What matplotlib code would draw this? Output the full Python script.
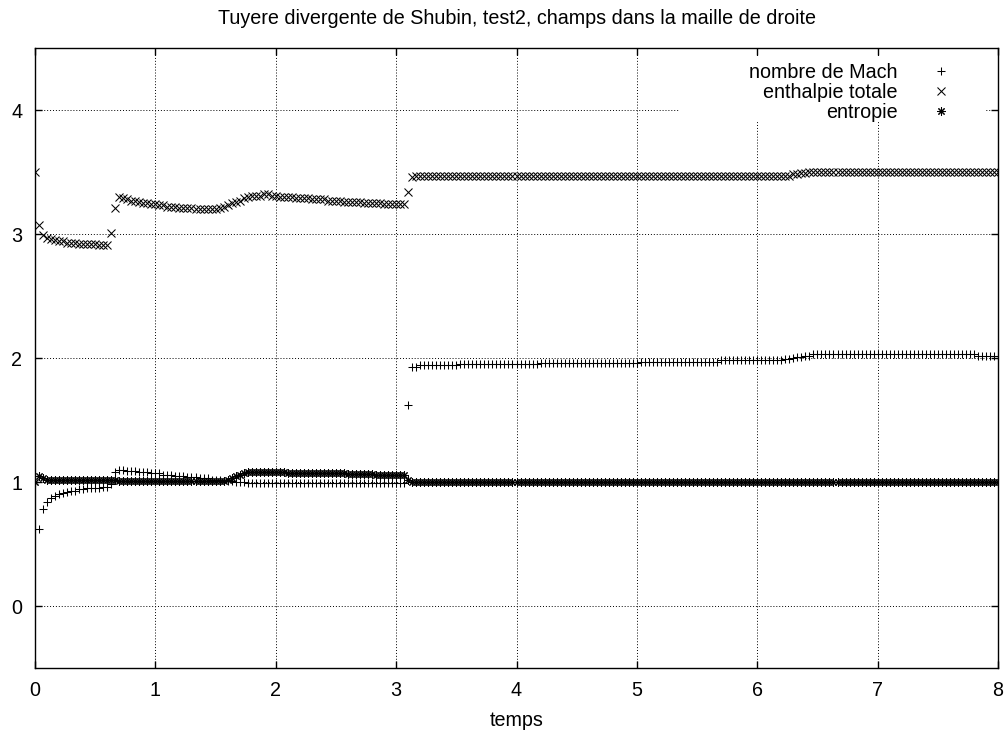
import matplotlib

matplotlib.use("Agg")
import matplotlib.pyplot as plt
import numpy as np
from matplotlib.patches import Rectangle

plt.rcParams["font.family"] = ["Liberation Sans", "DejaVu Sans"]

TITLE = "Tuyere divergente de Shubin, test2, champs dans la maille de droite"
XLABEL = "temps"
LABELS = ["nombre de Mach", "enthalpie totale", "entropie"]
X_TICKS = [0, 1, 2, 3, 4, 5, 6, 7, 8]
Y_TICKS = [0, 1, 2, 3, 4]

# one sample every 1/30 s
mach = [
    1.00, 0.62, 0.78, 0.84, 0.87, 0.89, 0.90, 0.91, 0.92, 0.93,
    0.93, 0.94, 0.94, 0.95, 0.95, 0.95, 0.95, 0.96, 0.96, 0.98,
    1.08, 1.10, 1.10, 1.09, 1.09, 1.09, 1.08, 1.08, 1.08, 1.07,
    1.07, 1.07, 1.06, 1.06, 1.06, 1.05, 1.05, 1.05, 1.04, 1.04,
    1.04, 1.03, 1.03, 1.03, 1.02, 1.02, 1.02, 1.01, 1.01, 1.01,
    1.00, 1.00, 1.00, 0.99, 0.99, 0.99, 0.99, 0.99, 0.99, 0.99,
    0.99, 0.99, 0.99, 0.99, 0.99, 0.99, 0.99, 0.99, 0.99, 0.99,
    0.99, 0.99, 0.99, 0.99, 0.99, 0.99, 0.99, 0.99, 0.99, 0.99,
    0.99, 0.99, 0.99, 0.99, 0.99, 0.99, 0.99, 0.99, 0.99, 0.99,
    0.99, 0.99, 0.99, 1.62, 1.93, 1.93, 1.94, 1.94, 1.94, 1.94,
    1.94, 1.94, 1.94, 1.94, 1.94, 1.94, 1.95, 1.95, 1.95, 1.95,
    1.95, 1.95, 1.95, 1.95, 1.95, 1.95, 1.95, 1.95, 1.95, 1.95,
    1.95, 1.95, 1.95, 1.95, 1.95, 1.95, 1.96, 1.96, 1.96, 1.96,
    1.96, 1.96, 1.96, 1.96, 1.96, 1.96, 1.96, 1.96, 1.96, 1.96,
    1.96, 1.96, 1.96, 1.96, 1.96, 1.96, 1.96, 1.96, 1.96, 1.96,
    1.96, 1.97, 1.97, 1.97, 1.97, 1.97, 1.97, 1.97, 1.97, 1.97,
    1.97, 1.97, 1.97, 1.97, 1.97, 1.97, 1.97, 1.97, 1.97, 1.97,
    1.97, 1.98, 1.98, 1.98, 1.98, 1.98, 1.98, 1.98, 1.98, 1.98,
    1.98, 1.98, 1.98, 1.98, 1.98, 1.98, 1.98, 1.99, 1.99, 2.00,
    2.01, 2.01, 2.02, 2.02, 2.03, 2.03, 2.03, 2.03, 2.03, 2.03,
    2.03, 2.03, 2.03, 2.03, 2.03, 2.03, 2.03, 2.03, 2.03, 2.03,
    2.03, 2.03, 2.03, 2.03, 2.03, 2.03, 2.03, 2.03, 2.03, 2.03,
    2.03, 2.03, 2.03, 2.03, 2.03, 2.03, 2.03, 2.03, 2.03, 2.03,
    2.03, 2.03, 2.03, 2.03, 2.03, 2.02, 2.02, 2.02, 2.02, 2.02,
    2.02,
]

enthalpie = [
    3.50, 3.07, 2.99, 2.97, 2.96, 2.95, 2.94, 2.94, 2.93, 2.93,
    2.93, 2.92, 2.92, 2.92, 2.92, 2.92, 2.91, 2.91, 2.91, 3.01,
    3.21, 3.30, 3.29, 3.28, 3.27, 3.27, 3.26, 3.25, 3.25, 3.24,
    3.24, 3.23, 3.23, 3.22, 3.22, 3.22, 3.21, 3.21, 3.21, 3.21,
    3.20, 3.20, 3.20, 3.20, 3.20, 3.20, 3.21, 3.22, 3.23, 3.25,
    3.26, 3.27, 3.29, 3.30, 3.31, 3.31, 3.31, 3.32, 3.32, 3.31,
    3.31, 3.30, 3.30, 3.30, 3.30, 3.29, 3.29, 3.29, 3.29, 3.28,
    3.28, 3.28, 3.28, 3.27, 3.27, 3.27, 3.27, 3.26, 3.26, 3.26,
    3.26, 3.26, 3.25, 3.25, 3.25, 3.25, 3.25, 3.24, 3.24, 3.24,
    3.24, 3.24, 3.24, 3.34, 3.46, 3.47, 3.47, 3.47, 3.47, 3.47,
    3.47, 3.47, 3.47, 3.47, 3.47, 3.47, 3.47, 3.47, 3.47, 3.47,
    3.47, 3.47, 3.47, 3.47, 3.47, 3.47, 3.47, 3.47, 3.47, 3.47,
    3.47, 3.47, 3.47, 3.47, 3.47, 3.47, 3.47, 3.47, 3.47, 3.47,
    3.47, 3.47, 3.47, 3.47, 3.47, 3.47, 3.47, 3.47, 3.47, 3.47,
    3.47, 3.47, 3.47, 3.47, 3.47, 3.47, 3.47, 3.47, 3.47, 3.47,
    3.47, 3.47, 3.47, 3.47, 3.47, 3.47, 3.47, 3.47, 3.47, 3.47,
    3.47, 3.47, 3.47, 3.47, 3.47, 3.47, 3.47, 3.47, 3.47, 3.47,
    3.47, 3.47, 3.47, 3.47, 3.47, 3.47, 3.47, 3.47, 3.47, 3.47,
    3.47, 3.47, 3.47, 3.47, 3.47, 3.47, 3.47, 3.47, 3.47, 3.48,
    3.48, 3.49, 3.49, 3.50, 3.50, 3.50, 3.50, 3.50, 3.50, 3.50,
    3.50, 3.50, 3.50, 3.50, 3.50, 3.50, 3.50, 3.50, 3.50, 3.50,
    3.50, 3.50, 3.50, 3.50, 3.50, 3.50, 3.50, 3.50, 3.50, 3.50,
    3.50, 3.50, 3.50, 3.50, 3.50, 3.50, 3.50, 3.50, 3.50, 3.50,
    3.50, 3.50, 3.50, 3.50, 3.50, 3.50, 3.50, 3.50, 3.50, 3.50,
    3.50,
]

entropie = [
    1.00, 1.05, 1.03, 1.02, 1.02, 1.02, 1.02, 1.02, 1.02, 1.02,
    1.02, 1.02, 1.02, 1.02, 1.02, 1.02, 1.02, 1.02, 1.02, 1.02,
    1.02, 1.01, 1.01, 1.01, 1.01, 1.01, 1.01, 1.01, 1.01, 1.01,
    1.01, 1.01, 1.01, 1.01, 1.01, 1.01, 1.01, 1.01, 1.01, 1.01,
    1.01, 1.01, 1.01, 1.01, 1.01, 1.01, 1.01, 1.01, 1.02, 1.03,
    1.05, 1.06, 1.07, 1.08, 1.08, 1.08, 1.08, 1.08, 1.08, 1.08,
    1.08, 1.08, 1.08, 1.075, 1.075, 1.075, 1.075, 1.075, 1.075, 1.07,
    1.07, 1.07, 1.07, 1.07, 1.07, 1.07, 1.07, 1.07, 1.065, 1.065,
    1.065, 1.065, 1.065, 1.065, 1.065, 1.06, 1.06, 1.06, 1.06, 1.06,
    1.06, 1.06, 1.06, 1.02, 1.00, 1.00, 1.00, 1.00, 1.00, 1.00,
    1.00, 1.00, 1.00, 1.00, 1.00, 1.00, 1.00, 1.00, 1.00, 1.00,
    1.00, 1.00, 1.00, 1.00, 1.00, 1.00, 1.00, 1.00, 1.00, 1.00,
    1.00, 1.00, 1.00, 1.00, 1.00, 1.00, 1.00, 1.00, 1.00, 1.00,
    1.00, 1.00, 1.00, 1.00, 1.00, 1.00, 1.00, 1.00, 1.00, 1.00,
    1.00, 1.00, 1.00, 1.00, 1.00, 1.00, 1.00, 1.00, 1.00, 1.00,
    1.00, 1.00, 1.00, 1.00, 1.00, 1.00, 1.00, 1.00, 1.00, 1.00,
    1.00, 1.00, 1.00, 1.00, 1.00, 1.00, 1.00, 1.00, 1.00, 1.00,
    1.00, 1.00, 1.00, 1.00, 1.00, 1.00, 1.00, 1.00, 1.00, 1.00,
    1.00, 1.00, 1.00, 1.00, 1.00, 1.00, 1.00, 1.00, 1.00, 1.00,
    1.00, 1.00, 1.00, 1.00, 1.00, 1.00, 1.00, 1.00, 1.00, 1.00,
    1.00, 1.00, 1.00, 1.00, 1.00, 1.00, 1.00, 1.00, 1.00, 1.00,
    1.00, 1.00, 1.00, 1.00, 1.00, 1.00, 1.00, 1.00, 1.00, 1.00,
    1.00, 1.00, 1.00, 1.00, 1.00, 1.00, 1.00, 1.00, 1.00, 1.00,
    1.00, 1.00, 1.00, 1.00, 1.00, 1.00, 1.00, 1.00, 1.00, 1.00,
    1.00,
]

temps = np.linspace(0.0, 8.0, len(mach))

fig = plt.figure(figsize=(10.08, 7.33), dpi=100)
ax = fig.add_axes([35 / 1008, 65 / 733, 963 / 1008, 620 / 733])

point_kw = dict(ls="none", color="black", ms=6, mew=0.75, zorder=3)
ax.plot(temps, mach, marker="+", label=LABELS[0], **point_kw)
ax.plot(temps, enthalpie, marker="x", label=LABELS[1], **point_kw)
ax.plot(temps, entropie, marker=(8, 2, 0), label=LABELS[2], **point_kw)

ax.set_xlim(0, 8)
ax.set_ylim(-0.5, 4.5)
ax.set_xticks(X_TICKS)
ax.set_yticks(Y_TICKS)
ax.grid(True, color="black", lw=0.7, ls=(0, (1, 2)))
ax.tick_params(direction="in", length=5, width=1, top=True, right=True,
               labelsize=14.2, pad=9)
for spine in ax.spines.values():
    spine.set_linewidth(1.0)

# gnuplot leaves the key area blank
ax.add_patch(Rectangle((0.670, 0.880), 0.317, 0.106, transform=ax.transAxes,
                       facecolor="white", edgecolor="none", zorder=1.6))

ax.legend(loc="upper right", bbox_to_anchor=(0.963, 0.976), frameon=False,
          markerfirst=False, numpoints=1, fontsize=14.2, labelspacing=0.05,
          handlelength=2.2, handletextpad=1.1, borderpad=0, borderaxespad=0)

ax.set_xlabel(XLABEL, fontsize=14.2, labelpad=8)
ax.set_title(TITLE, fontsize=14.2, pad=17)

plt.savefig("out.png", dpi=100)
plt.close()
